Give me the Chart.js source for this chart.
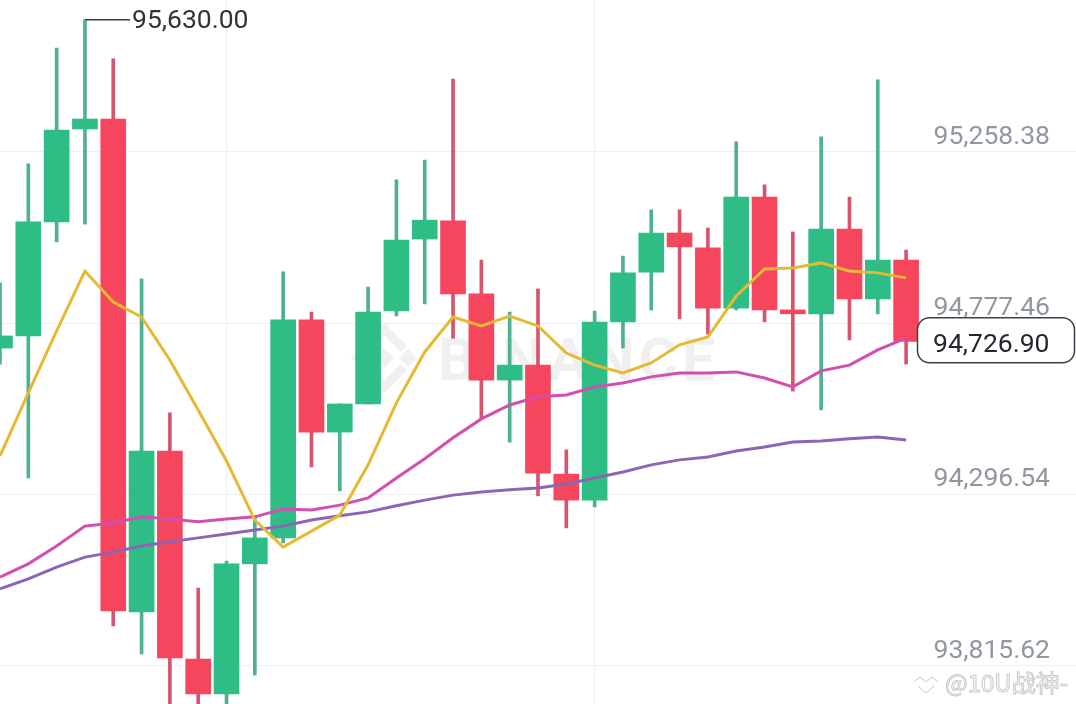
<!DOCTYPE html>
<html>
<head>
<meta charset="utf-8">
<title>BTC K线</title>
<script src="https://cdn.jsdelivr.net/npm/chart.js@4/dist/chart.umd.min.js"></script>
<style>
  html, body { margin: 0; padding: 0; background: #fff; overflow: hidden; }
  #wrap { width: 1076px; height: 704px; }
</style>
</head>
<body>
<div id="wrap"><canvas id="kline" width="1076" height="704"></canvas></div>
<script>
var candleOpen = [94708, 94742, 95062, 95323, 95351, 93967, 94419, 93835, 93737, 94102, 94175, 94787, 94472, 94551, 94812, 95014, 95065, 94860, 94618, 94660, 94354, 94281, 94781, 94921, 95031, 94989, 94820, 95132, 94815, 94804, 95042, 94846, 94955];
var candleClose = [94742, 95062, 95320, 95351, 93970, 94419, 93838, 93737, 94102, 94175, 94787, 94472, 94551, 94809, 95011, 95067, 94860, 94618, 94660, 94357, 94281, 94781, 94919, 95031, 94992, 94820, 95132, 94815, 94804, 95042, 94846, 94955, 94726.9];
var candleHigh = [94891, 95225, 95550, 95630, 95520, 94902, 94526, 94034, 94110, 94237, 94922, 94809, 94551, 94879, 95180, 95236, 95463, 94955, 94809, 94874, 94422, 94812, 94966, 95096, 95096, 95045, 95287, 95166, 95034, 95301, 95132, 95461, 94983];
var candleLow = [94663, 94343, 95006, 95056, 93928, 93849, 93692, 93692, 93692, 93790, 94161, 94374, 94307, 94551, 94798, 94832, 94736, 94509, 94444, 94293, 94203, 94262, 94708, 94815, 94790, 94747, 94815, 94781, 94587, 94534, 94731, 94804, 94663];

var maYellow = [94405, 94582, 94756, 94924, 94837, 94795, 94674, 94534, 94391, 94225, 94149, 94194, 94239, 94380, 94554, 94697, 94795, 94770, 94798, 94770, 94694, 94660, 94638, 94666, 94717, 94739, 94854, 94930, 94933, 94947, 94924, 94919, 94905];
var maPink = [94065, 94102, 94152, 94208, 94217, 94234, 94228, 94220, 94228, 94234, 94256, 94253, 94267, 94287, 94343, 94397, 94456, 94509, 94548, 94571, 94576, 94599, 94610, 94627, 94638, 94638, 94641, 94624, 94599, 94644, 94660, 94703, 94736];
var maPurple = [94032, 94060, 94093, 94121, 94135, 94152, 94164, 94175, 94186, 94197, 94208, 94225, 94237, 94248, 94265, 94281, 94295, 94304, 94310, 94315, 94326, 94343, 94360, 94380, 94394, 94402, 94419, 94430, 94444, 94447, 94453, 94458, 94450];

var priceTicks = [95258.38, 94777.46, 94296.54, 93815.62];
var highLabel = 95630.0;
var highIndex = 3;
var lastPrice = 94726.9;
// 右边留 6 根空位放价格标签
var categories = [];
for (var i = 0; i < 39; i++) categories.push(String(i));

var GREEN = "#2ebd85";
var RED = "#f6465d";
var GREEN_WICK = "#4fb18f";
var RED_WICK = "#d8546c";
var NUM_FONT = "26.5px Roboto";

function fmt(v) {
  return v.toLocaleString("en-US", { minimumFractionDigits: 2, maximumFractionDigits: 2 });
}

function isUp(i) {
  return candleClose[i] >= candleOpen[i];
}

var bodyBars = candleOpen.map(function (o, i) { return [o, candleClose[i]]; });
var wickBars = candleLow.map(function (l, i) { return [l, candleHigh[i]]; });
var bodyColors = candleOpen.map(function (_, i) { return isUp(i) ? GREEN : RED; });
var wickColors = candleOpen.map(function (_, i) { return isUp(i) ? GREEN_WICK : RED_WICK; });

function maLine(label, values, color) {
  return {
    type: "line",
    label: label,
    data: values,
    borderColor: color,
    borderWidth: 3,
    pointRadius: 0,
    tension: 0,
    order: 1,
  };
}

/** 水印：居中的 BINANCE */
var watermarkPlugin = {
  id: "watermark",
  beforeDatasetsDraw: function (chart) {
    var ctx = chart.ctx;
    ctx.save();
    ctx.fillStyle = "#f0f0f0";
    ctx.font = "700 59px Roboto";
    ctx.letterSpacing = "4.5px";
    ctx.textAlign = "left";
    ctx.textBaseline = "alphabetic";
    ctx.fillText("BINANCE", 438, 380);
    ctx.letterSpacing = "0px";
    // logo：中间菱形 + 上下折角 + 左右小菱形
    ctx.translate(384, 358);
    ctx.beginPath();
    ctx.moveTo(0, -10); ctx.lineTo(10, 0); ctx.lineTo(0, 10); ctx.lineTo(-10, 0);
    ctx.closePath();
    ctx.moveTo(-33, 0); ctx.lineTo(-24, -9); ctx.lineTo(-15, 0); ctx.lineTo(-24, 9);
    ctx.closePath();
    ctx.moveTo(33, 0); ctx.lineTo(24, -9); ctx.lineTo(15, 0); ctx.lineTo(24, 9);
    ctx.closePath();
    ctx.fill();
    ctx.strokeStyle = "#f0f0f0";
    ctx.lineWidth = 9;
    ctx.beginPath();
    ctx.moveTo(-20, -9); ctx.lineTo(0, -29); ctx.lineTo(20, -9);
    ctx.moveTo(-20, 9); ctx.lineTo(0, 29); ctx.lineTo(20, 9);
    ctx.stroke();
    ctx.restore();
  },
};

/** 最高价引线、现价框、右下角水印 */
var overlayPlugin = {
  id: "overlay",
  afterDraw: function (chart) {
    var ctx = chart.ctx;
    var sx = chart.scales.x;
    var sy = chart.scales.y;

    ctx.save();
    var hx = sx.getPixelForValue(highIndex);
    var hy = sy.getPixelForValue(highLabel);
    ctx.strokeStyle = "#3c4149";
    ctx.lineWidth = 1.5;
    ctx.beginPath();
    ctx.moveTo(hx, hy);
    ctx.lineTo(130, hy);
    ctx.stroke();
    ctx.fillStyle = "#2f343b";
    ctx.font = NUM_FONT;
    ctx.textBaseline = "middle";
    ctx.textAlign = "left";
    ctx.fillText(fmt(highLabel), 132, hy + 2);

    var py = sy.getPixelForValue(lastPrice);
    ctx.beginPath();
    ctx.roundRect(917.5, py - 23.5, 157, 45, 12);
    ctx.fillStyle = "#fff";
    ctx.fill();
    ctx.strokeStyle = "#3c4149";
    ctx.lineWidth = 1.5;
    ctx.stroke();
    ctx.fillStyle = "#23272e";
    ctx.fillText(fmt(lastPrice), 933, py + 4);

    // 右下角水印
    ctx.font = '24px "Noto Sans CJK SC"';
    ctx.lineWidth = 1;
    ctx.strokeStyle = "#c9c9c9";
    ctx.fillStyle = "#fff";
    ctx.fillText("@10U战神-", 945, 683);
    ctx.strokeText("@10U战神-", 945, 683);
    ctx.beginPath();
    ctx.moveTo(914, 682); ctx.lineTo(920, 677); ctx.lineTo(926, 682); ctx.lineTo(932, 677); ctx.lineTo(938, 682);
    ctx.moveTo(918, 686); ctx.lineTo(926, 693); ctx.lineTo(934, 686);
    ctx.stroke();
    ctx.restore();
  },
};

new Chart(document.getElementById("kline"), {
  type: "bar",
  data: {
    labels: categories,
    datasets: [
      maLine("MA7", maYellow, "#e6b935"),
      maLine("MA25", maPink, "#d14fae"),
      maLine("MA99", maPurple, "#8c66b4"),
      {
        label: "body",
        data: bodyBars,
        backgroundColor: bodyColors,
        barThickness: 25,
        grouped: false,
        borderSkipped: false,
        borderWidth: 0,
        order: 2,
      },
      {
        label: "wick",
        data: wickBars,
        backgroundColor: wickColors,
        barThickness: 3,
        grouped: false,
        borderSkipped: false,
        borderWidth: 0,
        order: 3,
      },
    ],
  },
  options: {
    responsive: false,
    animation: false,
    layout: { padding: 0, autoPadding: false },
    plugins: { legend: { display: false }, tooltip: { enabled: false } },
    scales: {
      x: {
        type: "category",
        offset: false,
        border: { display: false },
        ticks: { display: false, autoSkip: false },
        grid: {
          offset: false,
          drawTicks: false,
          color: function (c) {
            return c.index === 8 || c.index === 21 ? "#efefef" : "rgba(0,0,0,0)";
          },
        },
        afterFit: function (axis) { axis.height = 0; },
      },
      y: {
        position: "right",
        min: 93708.6,
        max: 95685.1,
        border: { display: false },
        afterBuildTicks: function (axis) {
          axis.ticks = priceTicks.map(function (v) { return { value: v }; });
        },
        afterFit: function (axis) { axis.width = 0; },
        ticks: {
          mirror: true,
          padding: -26,
          labelOffset: -15,
          color: "#9197a0",
          font: { family: "Roboto", size: 26.5 },
          callback: function (v) { return fmt(v); },
        },
        grid: { drawTicks: false, color: "#efefef" },
      },
    },
  },
  plugins: [watermarkPlugin, overlayPlugin],
});
</script>
</body>
</html>
